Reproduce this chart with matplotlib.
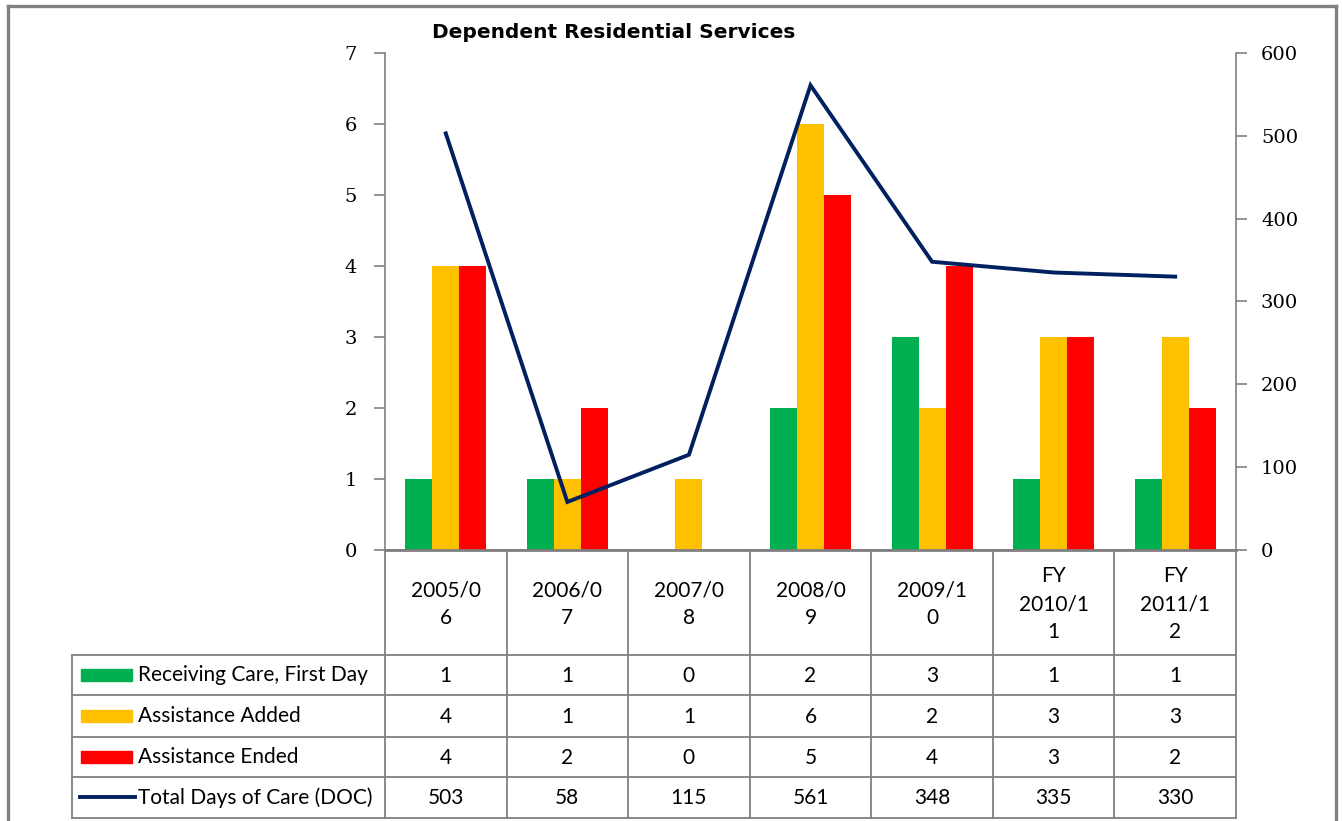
#! /usr/bin/env python

import numpy as np
import matplotlib.pyplot as plt

# chart data
categories = ['2005/0\n6', '2006/0\n7', '2007/0\n8', '2008/0\n9', '2009/1\n0', 'FY\n2010/1\n1', 'FY\n2011/1\n2']
receiving = [1, 1, 0, 2, 3, 1, 1]
added = [4, 1, 1, 6, 2, 3, 3]
ended = [4, 2, 0, 5, 4, 3, 2]
doc = [503, 58, 115, 561, 348, 335, 330]
series_names = ['Receiving Care, First Day', 'Assistance Added', 'Assistance Ended', 'Total Days of Care (DOC)']

green = '#00B050'
yellow = '#FFC000'
red = '#FF0000'
navy = '#002060'
gray = '#808080'

W, H = 1343, 821
fig = plt.figure(figsize=(W / 100., H / 100.), dpi=100)
fig.patch.set_facecolor('white')

# plot area in pixels
left, right, top, bottom = 385, 1236, 53, 550
ax = fig.add_axes([left / W, 1 - bottom / H, (right - left) / W, (bottom - top) / H], zorder=2)
ax.set_facecolor('none')

N = len(categories)
x = np.arange(N)
width = 0.222	# width of the bars

ax.bar(x - width, receiving, width, color=green)
ax.bar(x, added, width, color=yellow)
ax.bar(x + width, ended, width, color=red)
ax.set_xlim(-0.5, N - 0.5)
ax.set_ylim(0, 7)
ax.set_yticks(range(0, 8))
ax.set_xticks([])

ax2 = ax.twinx()
ax2.plot(x, doc, color=navy, linewidth=2.8, solid_joinstyle='miter')
ax2.set_ylim(0, 600)
ax2.set_yticks(range(0, 700, 100))

for a in (ax, ax2):
	for s in a.spines.values():
		s.set_color(gray)
		s.set_linewidth(1.2)
	a.spines['top'].set_visible(False)
	a.tick_params(axis='y', colors='black', labelsize=14, length=8, width=1.2, color=gray)
	for lbl in a.get_yticklabels():
		lbl.set_family('DejaVu Serif')
ax.tick_params(axis='y', pad=12)
ax2.tick_params(axis='y', pad=10)
ax.spines['right'].set_visible(False)
ax.spines['bottom'].set_linewidth(2)
ax2.spines['left'].set_visible(False)
ax2.spines['bottom'].set_visible(False)

fig.text(614 / W, 1 - 32 / H, 'Dependent Residential Services', fontsize=14.5, fontweight='bold',
	family=['DejaVu Sans'], ha='center', va='center')

# overlay axes in pixel coordinates for the data table and the frame
tab = fig.add_axes([0, 0, 1, 1], zorder=1)
tab.set_xlim(0, W)
tab.set_ylim(H, 0)
tab.axis('off')

colw = (right - left) / float(N)
edges = [left + i * colw for i in range(N + 1)]
rows = [bottom, 655, 695, 737, 777, 818]
tab_left = 72
lc = dict(color=gray, linewidth=1.3)
font = dict(family=['Lato', 'DejaVu Sans'], fontsize=15, ha='center', va='center')

# horizontal lines
tab.plot([left, right], [rows[0], rows[0]], **lc)
for y in rows[1:]:
	tab.plot([tab_left, right], [y, y], **lc)
# vertical lines
for e in edges:
	tab.plot([e, e], [rows[0], rows[-1]], **lc)
tab.plot([tab_left, tab_left], [rows[1], rows[-1]], **lc)

# header labels
for i, c in enumerate(categories):
	tab.text((edges[i] + edges[i + 1]) / 2, (rows[0] + rows[1]) / 2 + 2, c, linespacing=1.5, **font)

# legend keys and values
values = [receiving, added, ended, doc]
key_colors = [green, yellow, red]
for r, vals in enumerate(values):
	yc = (rows[r + 1] + rows[r + 2]) / 2
	if r < 3:
		tab.add_patch(plt.Rectangle((81, yc - 6), 51, 12, color=key_colors[r]))
	else:
		tab.plot([80, 135], [yc, yc], color=navy, linewidth=2.8)
	tab.text(138, yc, series_names[r], family=['Lato', 'DejaVu Sans'], fontsize=15, ha='left', va='center')
	for i, v in enumerate(vals):
		tab.text((edges[i] + edges[i + 1]) / 2, yc + 1, str(v), **font)

# outer chart frame
fc = dict(color=gray, linewidth=2.4, solid_capstyle='projecting')
tab.plot([8, 1336], [6, 6], **fc)
tab.plot([8, 8], [6, H + 5], **fc)
tab.plot([1336, 1336], [6, H + 5], **fc)

plt.savefig('out.png', dpi=100)
